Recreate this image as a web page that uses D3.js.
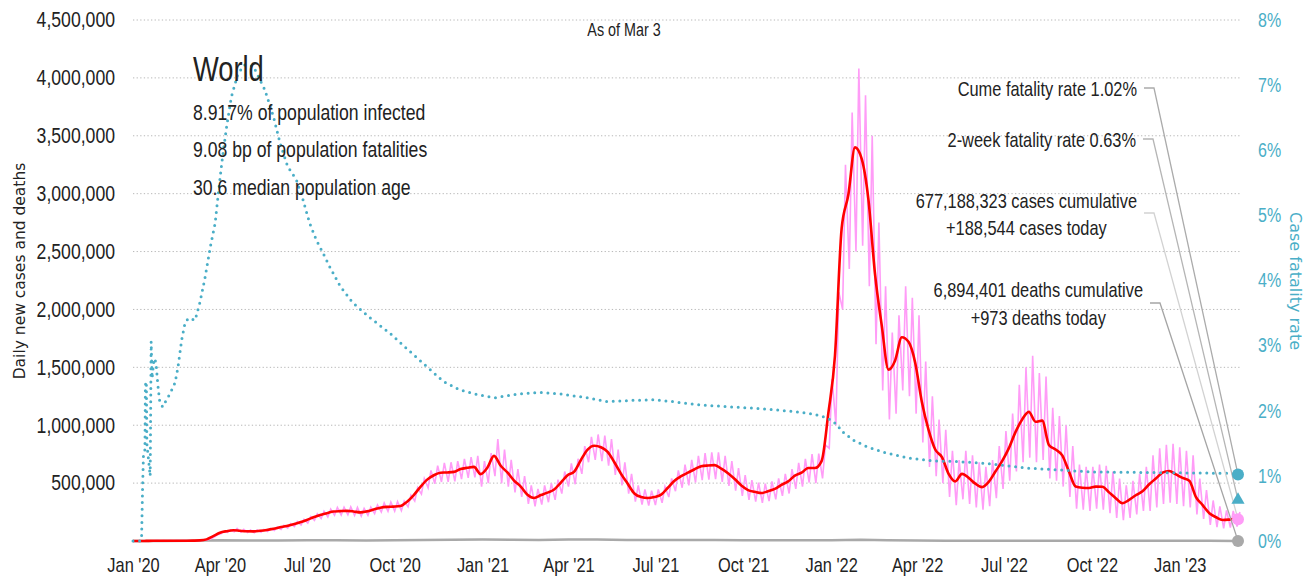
<!DOCTYPE html>
<html><head><meta charset="utf-8">
<script src="https://cdn.jsdelivr.net/npm/d3@7/dist/d3.min.js"></script>
<style>
body{margin:0;background:#fff}
text{font-family:"Liberation Sans",Arial,sans-serif;fill:#222}
</style></head>
<body><svg id="chart" width="1315" height="582"></svg>
<script>
// ---------- DATA ----------
const startDate = "2020-01-01";
const endDate = "2023-03-03";
// weekly 7-day average of new cases (thousands), one value per week from startDate
const avgCases = [0,0,1,2,2,2,2,2,2,3,
 5,14,42,72,85,93,88,84,83,88,
 95,105,118,130,145,162,182,205,225,240,
 255,258,260,255,247,256,272,288,295,297,
 302,340,397,468,530,568,590,592,597,622,
 632,640,578,632,735,650,592,522,470,400,
 372,397,418,445,505,568,600,700,790,823,
 810,770,680,580,495,410,380,371,380,400,
 460,520,560,590,620,645,652,655,625,585,
 535,480,440,425,414,430,450,485,515,565,
 590,630,630,690,1100,1600,2700,2990,3400,3300,
 2950,2300,1860,1480,1560,1760,1720,1540,1200,960,
 790,725,580,515,580,545,495,465,510,600,
 690,800,940,1050,1115,1030,1040,830,790,740,
 600,470,460,458,470,468,420,370,326,355,
 395,430,490,540,590,604,575,545,520,380,
 310,240,205,182,185,190];
// weekly high (mid-week) and low (weekend) of the daily new cases (thousands)
const dailyHigh = [0,0,1,3,3,3,3,3,3,4,
 7,18,52,82,95,108,100,95,95,100,
 108,120,135,150,168,188,210,235,258,275,
 290,292,295,290,282,292,310,328,337,340,
 345,395,460,540,610,650,675,680,690,710,
 725,735,690,760,880,790,700,620,560,480,
 450,480,500,530,600,670,710,820,900,920,
 910,880,790,680,580,480,445,435,445,470,
 540,610,660,700,735,760,765,765,735,690,
 630,570,525,505,495,515,540,580,620,675,
 710,750,755,830,1400,2150,3250,3700,4080,3850,
 3500,2750,2200,1800,1950,2200,2100,1950,1550,1250,
 1050,960,780,700,780,740,680,640,700,820,
 950,1100,1350,1500,1600,1450,1420,1150,1080,1000,
 820,660,640,640,660,650,600,540,480,520,
 580,640,740,800,830,840,810,780,740,540,
 440,350,300,265,260,250];
const dailyLow = [0,0,1,1,1,1,1,1,1,2,
 4,11,35,62,75,80,76,73,72,76,
 82,90,100,112,124,138,155,178,195,208,
 222,225,226,222,215,222,236,250,256,258,
 262,295,345,405,460,495,510,510,515,535,
 545,550,470,500,560,500,470,420,380,320,
 300,315,335,355,410,470,490,580,680,700,
 690,650,570,480,410,340,315,305,310,330,
 380,430,460,480,505,525,530,535,510,475,
 435,390,355,340,330,345,360,390,410,450,
 470,505,500,540,800,1000,2000,2350,2500,2550,
 2200,1700,1300,1050,1100,1300,1250,1100,850,640,
 560,500,380,310,360,320,290,270,300,370,
 450,520,600,680,720,680,700,540,520,470,
 380,280,270,260,280,270,240,200,180,200,
 230,260,260,290,320,330,320,300,290,230,
 190,140,120,110,115,125];
// monthly daily deaths (thousands), Jan 2020 .. Mar 2023
const deathsMonthly = [0,0.1,2,6.5,4.5,4.5,5.5,5.8,5.4,6,9,11.5,14,11,9,12,12.5,9,8,9.5,8.5,7,7,7,7.5,10,6,3.5,2,1.5,2,2.2,1.6,1.3,1.3,1.6,2,1.2,1.0];
// case fatality rate (%), day offset from startDate
const cfrDay = [0,8,9,10,11,12.5,13,14,14.5,18,18.5,19,20,22,24,26,28,31,34,39,44,47,51,54.5,58,65,70,75,81,86,89,93,98,103,110,117,126,133,138,147,154,162,171,178,185,192,199,206,217,230,248,269,290,309,325,342,363,379,405,426,447,475,496,524,545,565,594,625,660,691,712,727,738,741,754,768,789,814,838,863,887,936,1005,1075,1145,1157];
const cfrPct = [0,0,0.05,0.8,1.35,1.4,2.4,2.45,1.5,1.0,2.0,3.06,2.5,2.8,2.75,2.4,2.14,2.06,2.14,2.27,2.43,2.66,3.09,3.35,3.42,3.39,3.66,4.01,4.52,4.88,5.29,5.81,6.36,6.82,7.18,7.31,7.29,7.08,6.93,6.52,6.11,5.75,5.55,5.24,4.88,4.62,4.42,4.21,3.91,3.66,3.43,3.19,2.91,2.66,2.45,2.32,2.24,2.2,2.26,2.28,2.26,2.2,2.14,2.16,2.17,2.14,2.09,2.06,2.03,1.99,1.95,1.89,1.78,1.70,1.55,1.45,1.35,1.27,1.23,1.22,1.2,1.12,1.06,1.05,1.04,1.02];
const casesToday = 188544;
const casesAvgToday = 181000;
const deathsToday = 973;
const cumeCfr = 1.02;
const twoWeekCfr = 0.63;
const leftTicks = [0,500000,1000000,1500000,2000000,2500000,3000000,3500000,4000000,4500000];
const rightTicks = [0,1,2,3,4,5,6,7,8];
const xTickDates = ["2020-01-01","2020-04-01","2020-07-01","2020-10-01","2021-01-01","2021-04-01","2021-07-01","2021-10-01","2022-01-01","2022-04-01","2022-07-01","2022-10-01","2023-01-01"];
const xTickLabels = ["Jan '20","Apr '20","Jul '20","Oct '20","Jan '21","Apr '21","Jul '21","Oct '21","Jan '22","Apr '22","Jul '22","Oct '22","Jan '23"];
const titleText = "World";
const statsLines = ["8.917% of population infected","9.08 bp of population fatalities","30.6 median population age"];
const asOfText = "As of Mar 3";
const notes = [
  {lines:["Cume fatality rate 1.02%"], target:"cume"},
  {lines:["2-week fatality rate 0.63%"], target:"two"},
  {lines:["677,188,323 cases cumulative","+188,544 cases today"], target:"cases"},
  {lines:["6,894,401 deaths cumulative","+973 deaths today"], target:"deaths"}
];

// ---------- CHART ----------
const svg = d3.select("#chart");
const DAY = 864e5;
const SX = 0.82; // horizontal condensing of the text face
const t0 = new Date(startDate + "T00:00:00Z");
const tEnd = new Date(endDate + "T00:00:00Z");
const dayDate = d => new Date(+t0 + d*DAY);
const L = 133, R = 1238, T = 20, B = 541;
const x = d3.scaleUtc().domain([t0, tEnd]).range([L, R]);
const y = d3.scaleLinear().domain([0, 4500000]).range([B, T]);
const yr = d3.scaleLinear().domain([0, 8]).range([B, T]);
const teal = "#4aaec7";

function addText(parent, px, py, str, size, anchor, sx, color) {
  return parent.append("text")
    .attr("transform", `translate(${px},${py}) scale(${sx},1)`)
    .attr("text-anchor", anchor || "start")
    .style("font-size", size + "px")
    .style("fill", color || "#222")
    .text(str);
}

// gridlines
svg.append("g").selectAll("line").data(leftTicks.slice(1)).join("line")
  .attr("x1", L).attr("x2", R + 3).attr("y1", d => y(d)).attr("y2", d => y(d))
  .attr("stroke", "#b8b8b8").attr("stroke-width", 1).attr("stroke-dasharray", "1.3,2.3");

// axes
const gL = svg.append("g").attr("transform", `translate(${L},0)`)
  .call(d3.axisLeft(y).tickValues(leftTicks.slice(1)).tickFormat(d3.format(",")).tickSize(0).tickPadding(18 / SX));
const gR = svg.append("g").attr("transform", `translate(${R},0)`)
  .call(d3.axisRight(yr).tickValues(rightTicks).tickFormat(d => d + "%").tickSize(0).tickPadding(20 / SX));
const gX = svg.append("g").attr("transform", `translate(0,${B})`)
  .call(d3.axisBottom(x).tickValues(xTickDates.map(s => new Date(s + "T00:00:00Z"))).tickFormat((d, i) => xTickLabels[i]).tickSize(0).tickPadding(17));
[gL, gR, gX].forEach(g => {
  g.select(".domain").remove();
  g.attr("font-family", null).attr("font-size", null);
  g.selectAll("text").attr("transform", `scale(${SX},1)`);
});
gL.selectAll("text").style("font-size", "21.5px").style("fill", "#222");
gR.selectAll("text").style("font-size", "19.5px").style("fill", teal);
gX.selectAll("text").style("font-size", "20px").style("fill", "#222");

// axis titles
svg.append("text").attr("transform", "translate(25,271) rotate(-90)").attr("text-anchor", "middle")
  .style("font-family", "'DejaVu Sans',sans-serif").style("font-size", "15.5px").text("Daily new cases and deaths");
svg.append("text").attr("transform", "translate(1290,281) rotate(90)").attr("text-anchor", "middle")
  .style("font-family", "'DejaVu Sans',sans-serif").style("font-size", "16px").style("fill", teal).text("Case fatality rate");

// deaths line
const deathPts = deathsMonthly.map((v, i) => [new Date(Date.UTC(2020, i, 1)), v * 1000]);
deathPts.push([tEnd, deathsToday]);
svg.append("path").datum(deathPts)
  .attr("fill", "none").attr("stroke", "#a9a9a9").attr("stroke-width", 2.5)
  .attr("d", d3.line().x(p => x(p[0])).y(p => y(p[1])));

// daily cases (pink)
const pinkPts = [];
dailyLow.forEach((v, i) => {
  pinkPts.push([dayDate(7 * i + 1), v * 1000]);
  pinkPts.push([dayDate(7 * i + 4), dailyHigh[i] * 1000]);
});
pinkPts.push([tEnd, casesToday]);
svg.append("path").datum(pinkPts)
  .attr("fill", "none").attr("stroke", "#ff9cf7").attr("stroke-width", 1.6)
  .attr("d", d3.line().x(p => x(p[0])).y(p => y(p[1])));

// 7-day average (red)
const redPts = avgCases.map((v, i) => [dayDate(7 * i), v * 1000]);
redPts.push([tEnd, casesAvgToday]);
svg.append("path").datum(redPts)
  .attr("fill", "none").attr("stroke", "#ff0000").attr("stroke-width", 2.6).attr("stroke-linejoin", "round")
  .attr("d", d3.line().curve(d3.curveMonotoneX).x(p => x(p[0])).y(p => y(p[1])));

// CFR (teal dotted)
const cfrPts = cfrDay.map((d, i) => [dayDate(d), cfrPct[i]]);
svg.append("path").datum(cfrPts)
  .attr("fill", "none").attr("stroke", teal).attr("stroke-width", 3).attr("stroke-linecap", "round")
  .attr("stroke-dasharray", "0,6.6")
  .attr("d", d3.line().x(p => x(p[0])).y(p => yr(p[1])));

// texts
addText(svg, 624, 36, asOfText, 17.5, "middle", SX);
addText(svg, 193, 81, titleText, 35, "start", 0.78);
statsLines.forEach((s, i) => addText(svg, 193, [120, 157, 195][i], s, 21.5, "start", SX));

// annotations with leader lines
const targets = {
  cume: {y: yr(cumeCfr), color: "#ababab"},
  two: {y: yr(twoWeekCfr), color: "#b5b5b5"},
  cases: {y: y(casesToday), color: "#d2d2d2"},
  deaths: {y: y(deathsToday), color: "#a5a5a5"}
};
const noteLayout = [
  {right: 1137, base: [96], lead: 88},
  {right: 1136, base: [147], lead: 139},
  {right: 1137, base: [208, 235], lead: 213},
  {right: 1143, base: [297, 325], lead: 303}
];
const gN = svg.append("g");
notes.forEach((n, k) => {
  const lay = noteLayout[k];
  const t1 = addText(gN, lay.right, lay.base[0], n.lines[0], 20, "end", SX);
  const w = t1.node().getComputedTextLength() * SX;
  if (n.lines[1]) addText(gN, lay.right - w / 2, lay.base[1], n.lines[1], 20, "middle", SX);
  const tg = targets[n.target];
  gN.append("path").attr("fill", "none").attr("stroke", tg.color).attr("stroke-width", 1.3)
    .attr("d", d3.line()([[lay.right + 7, lay.lead], [lay.right + 17, lay.lead], [R, tg.y]]));
});

// end markers
svg.append("circle").attr("cx", x(tEnd)).attr("cy", y(deathsToday)).attr("r", 6).attr("fill", "#a9a9a9");
svg.append("circle").attr("cx", x(tEnd)).attr("cy", y(casesToday)).attr("r", 6).attr("fill", "#ff9cf7");
svg.append("path").attr("transform", `translate(${x(tEnd)},${yr(twoWeekCfr)})`)
  .attr("d", d3.symbol(d3.symbolTriangle, 75)()).attr("fill", teal);
svg.append("circle").attr("cx", x(tEnd)).attr("cy", yr(cumeCfr)).attr("r", 6).attr("fill", teal);
</script></body></html>
